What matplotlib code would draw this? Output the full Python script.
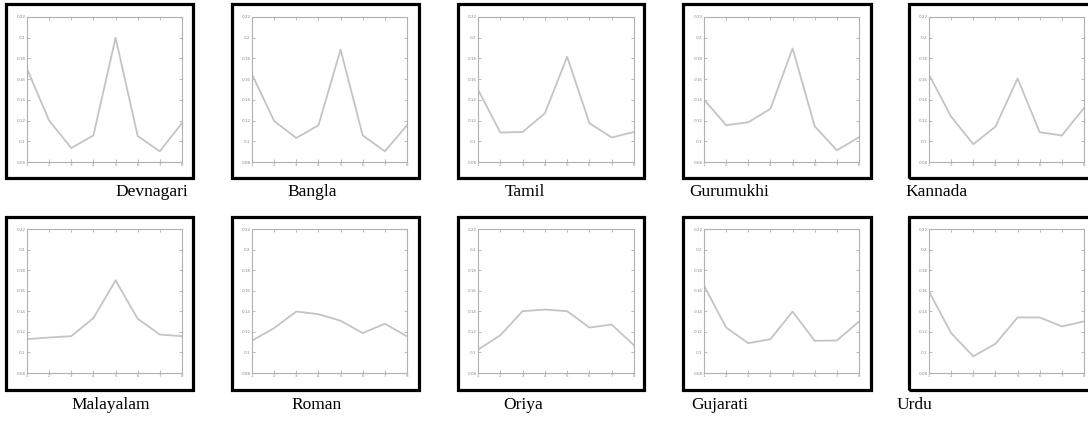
import numpy as np
import matplotlib
matplotlib.use('Agg')
import matplotlib.pyplot as plt
from matplotlib.patches import Rectangle

W, H = 1088, 423

# Script names and their curves
scripts = ['Devnagari', 'Bangla', 'Tamil', 'Gurumukhi', 'Kannada',
           'Malayalam', 'Roman', 'Oriya', 'Gujarati', 'Urdu']
x_vals = [1, 2, 3, 4, 5, 6, 7, 8]
devnagari = [0.170, 0.120, 0.0935, 0.1057, 0.200, 0.105, 0.0903, 0.1177]
bangla = [0.1646, 0.1196, 0.1032, 0.1154, 0.1885, 0.1057, 0.0903, 0.1154]
tamil = [0.150, 0.1085, 0.109, 0.127, 0.1816, 0.1175, 0.1037, 0.109]
gurumukhi = [0.1403, 0.1155, 0.1184, 0.1313, 0.1897, 0.1145, 0.0913, 0.1039]
kannada = [0.1643, 0.1238, 0.0972, 0.1141, 0.1606, 0.1088, 0.1056, 0.1321]
malayalam = [0.1129, 0.1145, 0.1158, 0.1334, 0.1701, 0.1327, 0.1174, 0.1158]
roman = [0.1114, 0.1237, 0.1398, 0.1372, 0.1308, 0.1188, 0.1279, 0.1156]
oriya = [0.1027, 0.1167, 0.1401, 0.1417, 0.1401, 0.1242, 0.1271, 0.1069]
gujarati = [0.165, 0.1242, 0.109, 0.1129, 0.1397, 0.1113, 0.1116, 0.1301]
urdu = [0.1592, 0.1188, 0.0962, 0.1084, 0.134, 0.134, 0.1253, 0.1301]
series = [devnagari, bangla, tamil, gurumukhi, kannada,
          malayalam, roman, oriya, gujarati, urdu]

y_ticks = [0.08, 0.1, 0.12, 0.14, 0.16, 0.18, 0.2, 0.22]
y_ticklabels = ['0.08', '0.1', '0.12', '0.14', '0.16', '0.18', '0.2', '0.22']

# Layout in pixels (left, right) for frames and axes
frame_x = [(6, 193), (232, 419), (458, 644), (683, 871), (909, 1096)]
axes_x = [(27, 182), (252, 407), (478, 634), (704, 859), (929, 1084)]
frame_y = [(4, 178), (217, 390)]
axes_y = [(17, 162), (229, 373)]
label_x = [115, 287, 505, 689, 905, 71, 291, 503, 691, 897]
label_y = [192, 405]

line_grey = '#c4c4c4'
axis_grey = '#b0b0b0'

fig = plt.figure(figsize=(W / 100, H / 100), dpi=100)

def fx(p):
    return p / W

def fy(p):
    return 1 - p / H

for i, (name, vals) in enumerate(zip(scripts, series)):
    row, col = divmod(i, 5)
    fx0, fx1 = frame_x[col]
    fy0, fy1 = frame_y[row]
    fig.patches.append(Rectangle((fx(fx0), fy(fy1)), fx(fx1 - fx0), (fy1 - fy0) / H,
                                 transform=fig.transFigure, fill=False,
                                 edgecolor='black', linewidth=2.3, zorder=0))
    ax0, ax1_ = axes_x[col]
    ay0, ay1 = axes_y[row]
    ax = fig.add_axes([fx(ax0), fy(ay1), fx(ax1_ - ax0), (ay1 - ay0) / H])
    ax.plot(x_vals, vals, color=line_grey, linewidth=1.3)
    ax.set_xlim(1, 8)
    ax.set_ylim(0.08, 0.22)
    ax.set_xticks(x_vals)
    ax.set_yticks(y_ticks)
    ax.set_yticklabels(y_ticklabels)
    for s in ax.spines.values():
        s.set_color(axis_grey)
        s.set_linewidth(0.8)
    ax.tick_params(direction='in', length=2, width=0.6, color=axis_grey,
                   labelsize=3, labelcolor='#888888', pad=1,
                   top=True, right=True)
    fig.text(fx(label_x[i]), fy(label_y[row]), name, ha='left', va='center',
             fontsize=12.5, family='Liberation Serif', color='black')

fig.savefig('out.png', dpi=100)
